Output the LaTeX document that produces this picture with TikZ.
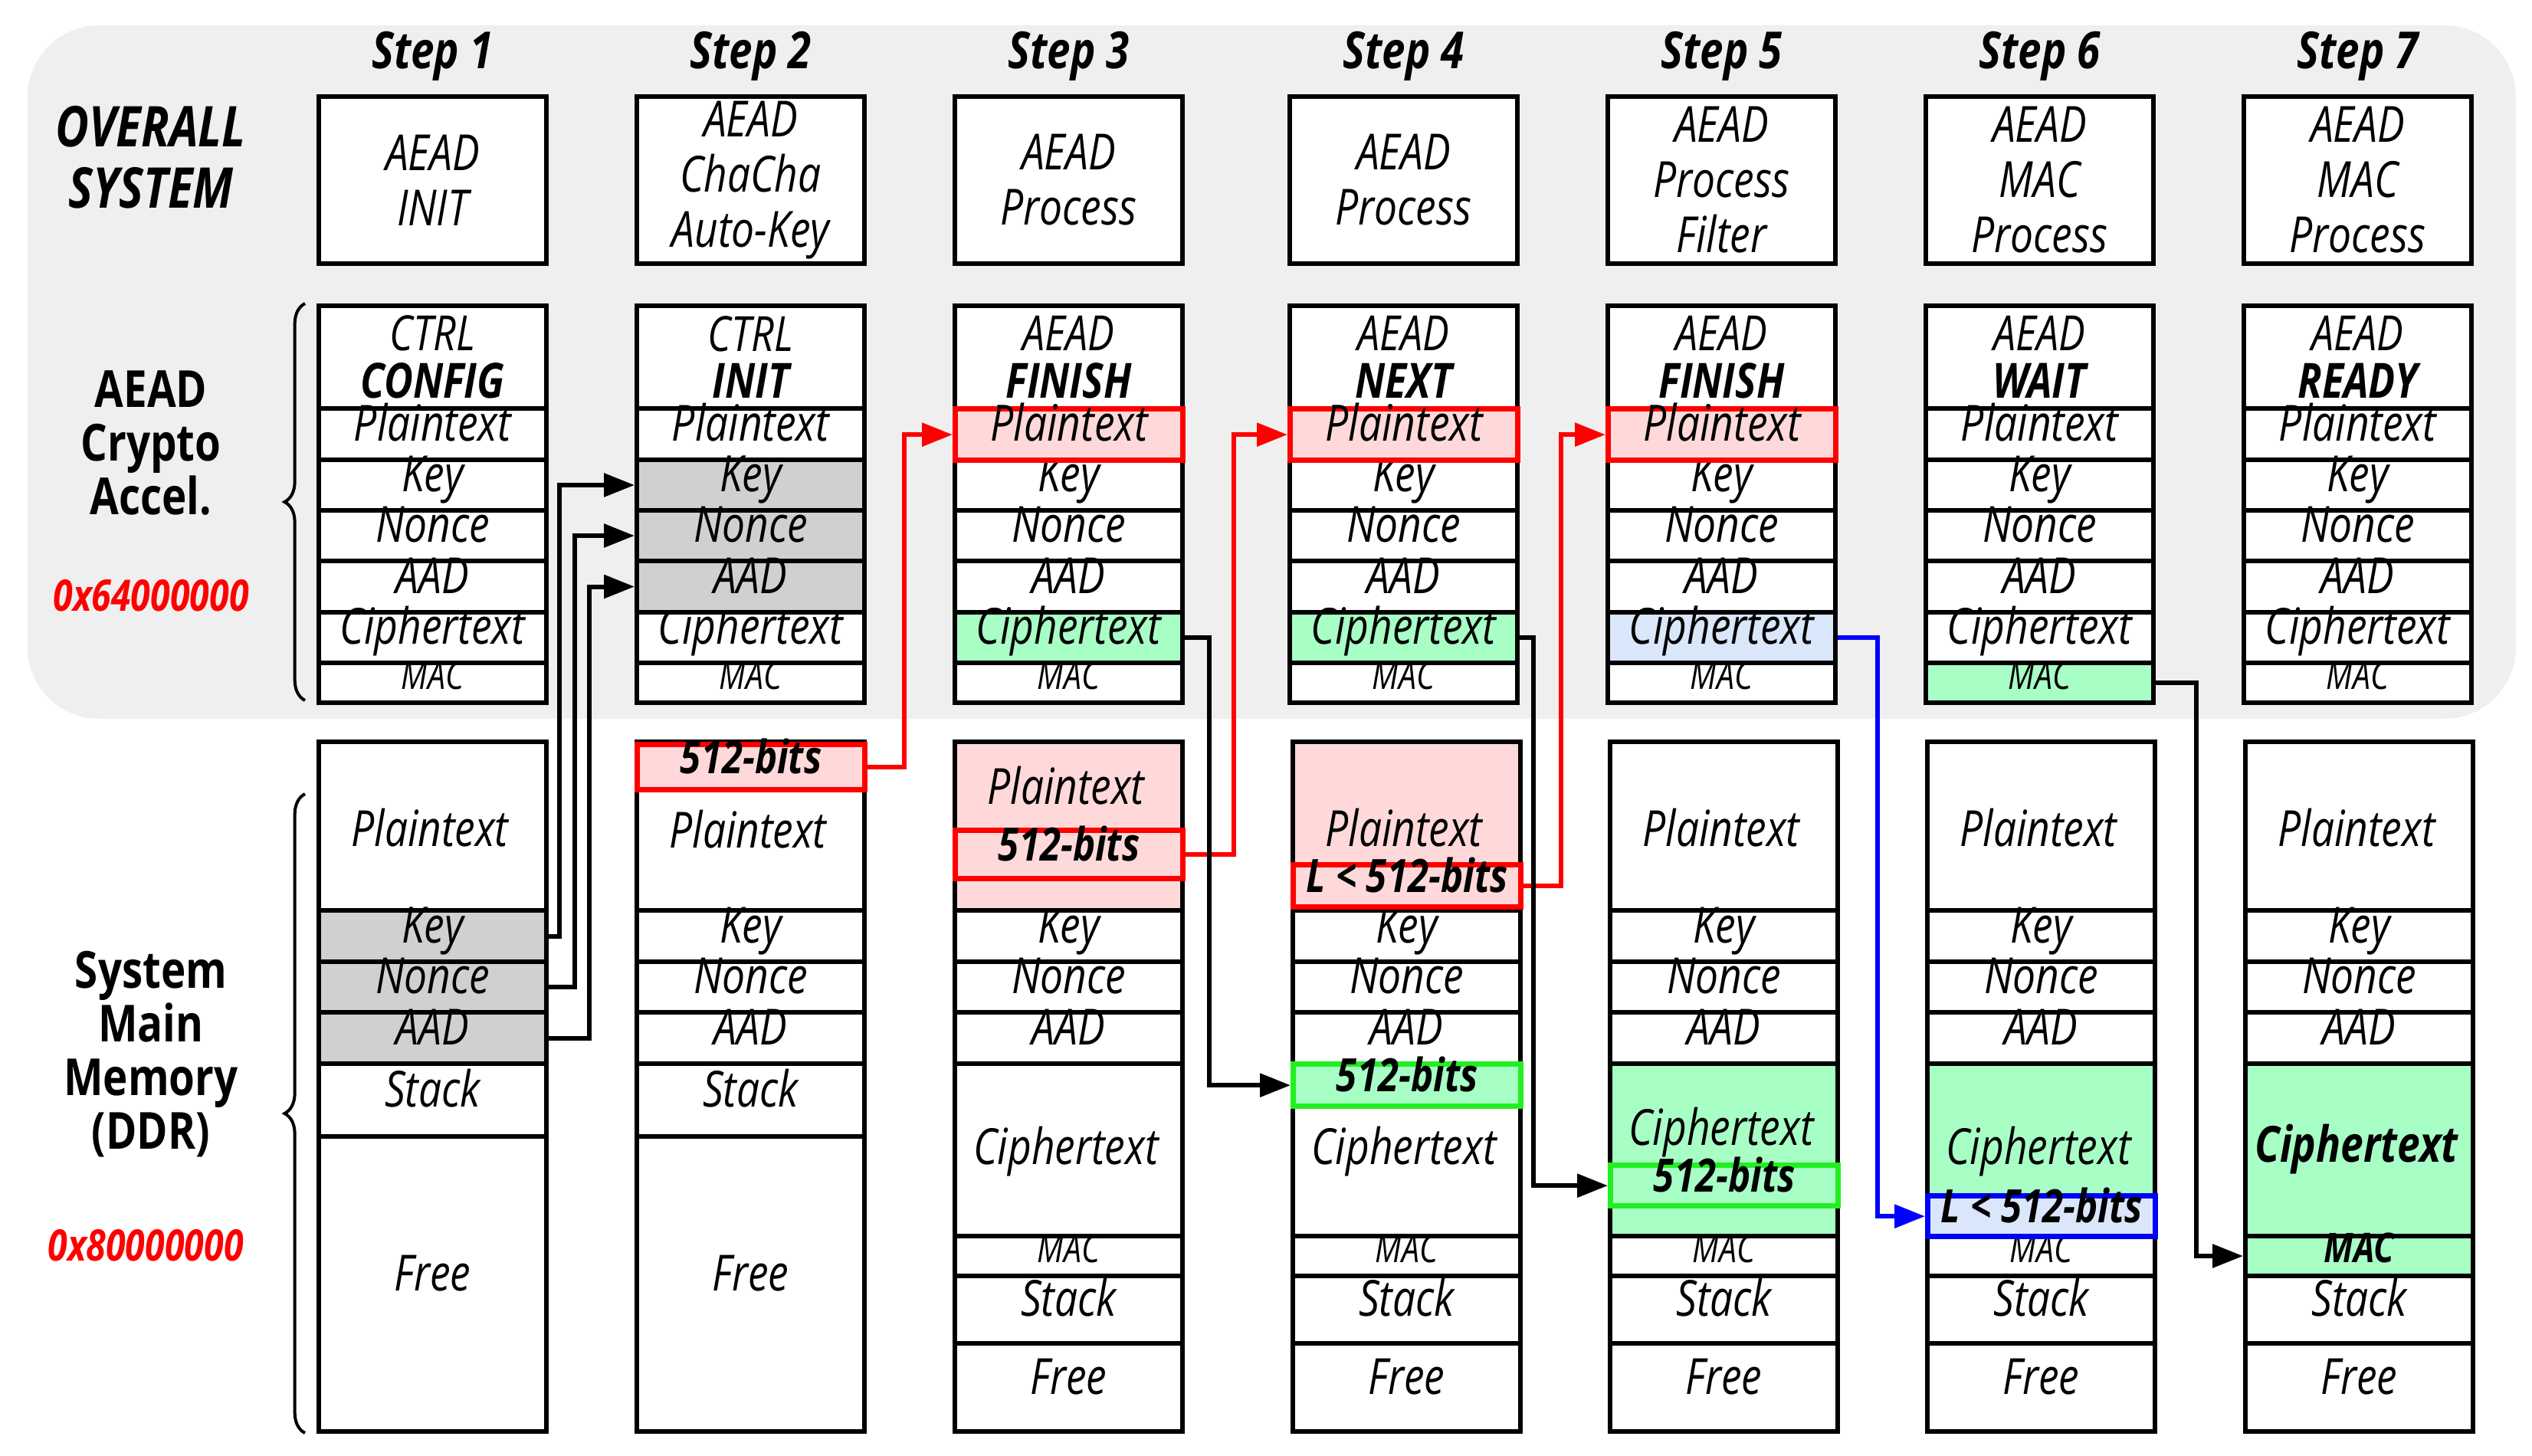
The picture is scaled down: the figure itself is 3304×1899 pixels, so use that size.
\documentclass[tikz,border=0pt]{standalone}
\usepackage{fontspec}
\setmainfont{Open Sans}[FakeStretch=0.82]
\usetikzlibrary{arrows.meta,positioning}
\usetikzlibrary{decorations.pathreplacing}

\definecolor{bggray}{HTML}{EFEFEF}
\definecolor{cellgray}{HTML}{D0D0D0}
\definecolor{ptpink}{HTML}{FFD9D9}
\definecolor{ctgreen}{HTML}{A8FFC6}
\definecolor{ctblue}{HTML}{DAE6FA}
\definecolor{bitgreen}{HTML}{22EE22}

\tikzset{
  cell/.style={draw, line width=1.8pt, minimum width=89.1pt, inner sep=0pt,
    font=\fontsize{19.5}{21.6}\selectfont\itshape, align=center},
  row/.style={text height=0.72em, text depth=0.2em},
  hdr/.style={font=\fontsize{19}{18.5}\selectfont\itshape},
  small/.style={font=\fontsize{15}{16}\selectfont\itshape},
  redbox/.style={fill=ptpink, draw=red, line width=2.2pt, font=\fontsize{18}{20}\selectfont\bfseries\itshape},
  grnbox/.style={fill=ctgreen, draw=bitgreen, line width=2.2pt, font=\fontsize{18}{20}\selectfont\bfseries\itshape},
  blubox/.style={fill=ctblue, draw=blue, line width=2.2pt, font=\fontsize{18}{20}\selectfont\bfseries\itshape},
  lbl/.style={font=\fontsize{19.5}{21.6}\selectfont\itshape, align=center, inner sep=0pt},
  side/.style={font=\fontsize{20}{21}\selectfont\bfseries, align=center},
  conn/.style={line width=1.8pt, -{Triangle[length=12pt,width=9pt]}},
}

% name, x, top, bottom, style, text
\newcommand\blk[6]{%
  \pgfmathsetmacro\hh{(#4-#3)*0.3}%
  \node[cell,row,#5,minimum height=\hh pt,anchor=north west] (#1) at (#2,#3) {#6};}
\newcommand\tallblk[6]{%
  \pgfmathsetmacro\hh{(#4-#3)*0.3}%
  \node[cell,#5,minimum height=\hh pt,anchor=north west] (#1) at (#2,#3) {#6};}

\begin{document}
\begin{tikzpicture}[x=0.3pt,y=-0.3pt]
\useasboundingbox (0,0) rectangle (3304,1899);

% Accelerator area
\fill[bggray, rounded corners=28pt] (36,33) rectangle (3283,938);

% Steps and overall system
\foreach \i/\x/\hd in {1/413/{AEAD\\INIT}, 2/828/{AEAD\\ChaCha\\Auto-Key},
    3/1243/{AEAD\\Process}, 4/1680/{AEAD\\Process}, 5/2095/{AEAD\\Process\\Filter},
    6/2510/{AEAD\\MAC\\Process}, 7/2925/{AEAD\\MAC\\Process}}{
  \tallblk{s\i}{\x}{123}{341}{fill=white}{\hd}
  \node[lbl, font=\fontsize{20}{21}\selectfont\bfseries\itshape, above=5pt of s\i] (st\i) {Step \i};
}

% Accelerator registers
\foreach \i/\x/\hd in {1/413/CONFIG, 2/828/INIT, 3/1243/FINISH, 4/1680/NEXT,
    5/2095/FINISH, 6/2510/WAIT, 7/2925/READY}{
  \ifnum\i<3 \def\top{CTRL}\else\def\top{AEAD}\fi
  \tallblk{a\i hd}{\x}{396}{530}{fill=white,hdr}{\top\\\textbf{\hd}}
  \foreach \f/\t/\b/\lab in {pt/530/597/Plaintext, key/597/663/Key, non/663/729/Nonce,
      aad/729/796/AAD, ct/796/862/Ciphertext}{
    \blk{a\i\f}{\x}{\t}{\b}{fill=white}{\lab}
  }
  \blk{a\i mac}{\x}{862}{914}{fill=white,small}{MAC}
}
\blk{a2key}{828}{597}{663}{fill=cellgray}{Key}
\blk{a2non}{828}{663}{729}{fill=cellgray}{Nonce}
\blk{a2aad}{828}{729}{796}{fill=cellgray}{AAD}
\blk{a3ct}{1243}{796}{862}{fill=ctgreen}{Ciphertext}
\blk{a4ct}{1680}{796}{862}{fill=ctgreen}{Ciphertext}
\blk{a5ct}{2095}{796}{862}{fill=ctblue}{Ciphertext}
\blk{a6mac}{2510}{862}{914}{fill=ctgreen,small}{MAC}
\blk{a3pt}{1243}{530}{597}{fill=ptpink,draw=red,line width=2.2pt}{Plaintext}
\blk{a4pt}{1680}{530}{597}{fill=ptpink,draw=red,line width=2.2pt}{Plaintext}
\blk{a5pt}{2095}{530}{597}{fill=ptpink,draw=red,line width=2.2pt}{Plaintext}

% Main memory
\foreach \i/\x in {1/413, 2/828}{
  \blk{m\i pt}{\x}{965}{1185}{}{}
  \blk{m\i key}{\x}{1185}{1252}{}{Key}
  \blk{m\i non}{\x}{1252}{1318}{}{Nonce}
  \blk{m\i aad}{\x}{1318}{1385}{}{AAD}
  \blk{m\i stk}{\x}{1385}{1480}{}{Stack}
  \blk{m\i free}{\x}{1480}{1865}{}{Free}
}
\foreach \i/\x in {3/1243, 4/1684, 5/2098, 6/2512, 7/2927}{
  \blk{m\i pt}{\x}{965}{1185}{}{}
  \blk{m\i key}{\x}{1185}{1252}{}{Key}
  \blk{m\i non}{\x}{1252}{1318}{}{Nonce}
  \blk{m\i aad}{\x}{1318}{1385}{}{AAD}
  \blk{m\i ct}{\x}{1385}{1610}{}{}
  \blk{m\i mac}{\x}{1610}{1662}{small}{MAC}
  \blk{m\i stk}{\x}{1662}{1750}{}{Stack}
  \blk{m\i free}{\x}{1750}{1865}{}{Free}
}
\blk{m1key}{413}{1185}{1252}{fill=cellgray}{Key}
\blk{m1non}{413}{1252}{1318}{fill=cellgray}{Nonce}
\blk{m1aad}{413}{1318}{1385}{fill=cellgray}{AAD}
\blk{m3pt}{1243}{965}{1185}{fill=ptpink}{}
\blk{m4pt}{1684}{965}{1185}{fill=ptpink}{}
\blk{m5ct}{2098}{1385}{1610}{fill=ctgreen}{}
\blk{m6ct}{2512}{1385}{1610}{fill=ctgreen}{}
\blk{m7ct}{2927}{1385}{1610}{fill=ctgreen}{}
\blk{m7mac}{2927}{1610}{1662}{fill=ctgreen,font=\fontsize{16}{17}\selectfont\bfseries\itshape}{MAC}

\foreach \n/\x/\y in {m1/561/1080, m2/976/1082, m3/1391/1025, m4/1832/1080,
    m5/2246/1080, m6/2660/1080, m7/3075/1080}{
  \node[lbl] (\n ptl) at (\x,\y) {Plaintext};
}
\foreach \n/\x/\y in {m3/1391/1503, m4/1832/1503, m5/2246/1478, m6/2660/1503}{
  \node[lbl] (\n ctl) at (\x,\y) {Ciphertext};
}
\node[lbl, font=\fontsize{19.5}{21}\selectfont\bfseries\itshape] (m7ctl) at (3075,1500) {Ciphertext};

% Moving blocks
\blk{m2bits}{828}{968}{1027}{redbox}{512-bits}
\blk{m3bits}{1243}{1080}{1143}{redbox}{512-bits}
\blk{m4bits}{1684}{1125}{1180}{redbox}{L < 512-bits}
\blk{m4grn}{1684}{1385}{1440}{grnbox}{512-bits}
\blk{m5bits}{2098}{1517}{1570}{grnbox}{512-bits}
\blk{m6bits}{2512}{1557}{1610}{blubox}{L < 512-bits}

% Side labels
\node[side, font=\fontsize{22}{24}\selectfont\bfseries\itshape] (ovs) at (197,205) {OVERALL\\SYSTEM};
\node[side] (acc) at (197,578) {AEAD\\Crypto\\Accel.};
\node[side, red, font=\fontsize{17}{18}\selectfont\bfseries\itshape] (acca) at (197,777) {0x64000000};
\node[side] (mem) at (197,1376) {System\\Main\\Memory\\(DDR)};
\node[side, red, font=\fontsize{17}{18}\selectfont\bfseries\itshape] (mema) at (190,1625) {0x80000000};
\draw[line width=1.2pt, decorate, decoration={brace, amplitude=8pt}] (398,914) -- (398,396);
\draw[line width=1.2pt, decorate, decoration={brace, amplitude=8pt}] (398,1870) -- (398,1036);

% Junctions
\coordinate (j1) at (730,0);  \coordinate (j2) at (750,0);  \coordinate (j3) at (769,0);
\coordinate (j4) at (1180,0); \coordinate (j5) at (1610,0); \coordinate (j6) at (2037,0);
\coordinate (j7) at (1578,0); \coordinate (j8) at (2001,0); \coordinate (j9) at (2450,0);
\coordinate (j10) at (2866,0);

% Connectors
\draw[conn] (m1key.east) -| (j1 |- a2key) -- (a2key.west);
\draw[conn] (m1non.east) -| (j2 |- a2non) -- (a2non.west);
\draw[conn] (m1aad.east) -| (j3 |- a2aad) -- (a2aad.west);
\draw[conn, red] (m2bits.east) -| (j4 |- a3pt) -- (a3pt.west);
\draw[conn, red] (m3bits.east) -| (j5 |- a4pt) -- (a4pt.west);
\draw[conn, red] (m4bits.east) -| (j6 |- a5pt) -- (a5pt.west);
\draw[conn] (a3ct.east) -| (j7 |- m4grn) -- (m4grn.west);
\draw[conn] (a4ct.east) -| (j8 |- m5bits) -- (m5bits.west);
\draw[conn, blue] (a5ct.east) -| (j9 |- m6bits) -- (m6bits.west);
\draw[conn] (a6mac.east) -| (j10 |- m7mac) -- (m7mac.west);

\end{tikzpicture}
\end{document}
